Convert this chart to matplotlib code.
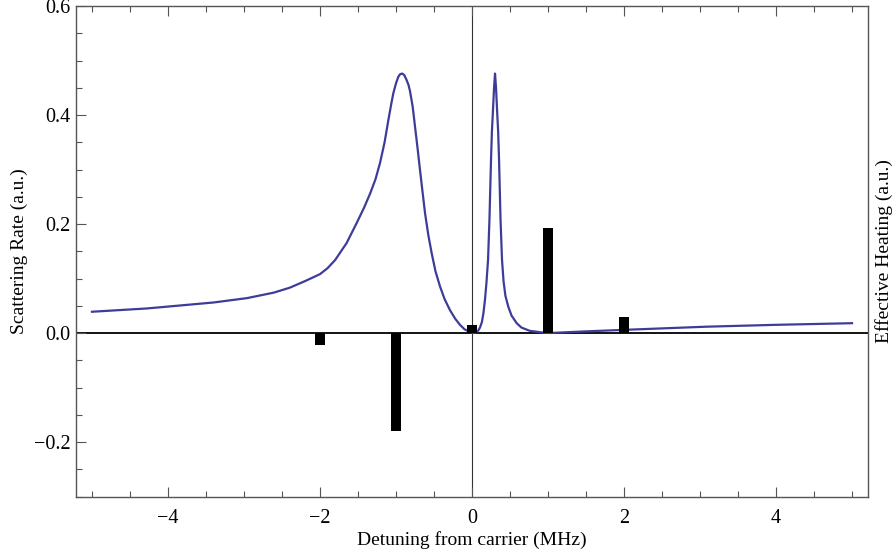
import matplotlib
matplotlib.use('Agg')
import matplotlib.pyplot as plt
from matplotlib.ticker import MultipleLocator

plt.rcParams['font.family'] = ['Liberation Serif', 'DejaVu Serif']

# scattering rate curve
detuning = [-5.0, -4.28, -3.40, -2.96, -2.61, -2.40, -2.20, -2.0, -1.9, -1.80, -1.65,
            -1.52, -1.42, -1.34, -1.27, -1.21, -1.15, -1.10, -1.06, -1.035, -1.0,
            -0.97, -0.945, -0.917, -0.89, -0.86, -0.835, -0.816, -0.78, -0.75,
            -0.717, -0.684, -0.65, -0.618, -0.575, -0.53, -0.48, -0.42, -0.36,
            -0.29, -0.22, -0.158, -0.10, -0.03, 0.02,
            0.05, 0.08, 0.105, 0.13, 0.15, 0.17, 0.19, 0.211, 0.23, 0.25, 0.262,
            0.273, 0.29, 0.303, 0.316, 0.333, 0.344, 0.356, 0.375, 0.395, 0.415,
            0.44, 0.478, 0.52, 0.588, 0.65, 0.76, 0.92, 1.03, 1.5, 1.95, 3.09,
            4.0, 5.0]
rate = [0.039, 0.045, 0.056, 0.064, 0.074, 0.083, 0.095, 0.108, 0.119, 0.134, 0.165,
        0.201, 0.230, 0.256, 0.282, 0.312, 0.350, 0.391, 0.422, 0.440, 0.458,
        0.470, 0.475, 0.476, 0.473, 0.464, 0.455, 0.444, 0.415, 0.379,
        0.340, 0.299, 0.258, 0.220, 0.180, 0.146, 0.113, 0.085, 0.062,
        0.042, 0.026, 0.015, 0.007, 0.002, 0.0,
        0.001, 0.004, 0.010, 0.020, 0.036, 0.060, 0.092, 0.134, 0.210, 0.317, 0.370,
        0.400, 0.450, 0.476, 0.450, 0.400, 0.370, 0.317, 0.210, 0.134, 0.095,
        0.068, 0.048, 0.032, 0.018, 0.010, 0.004, 0.001, 0.0, 0.003, 0.0055, 0.0116,
        0.015, 0.018]

# effective heating of each sideband
sideband = [-2, -1, 0, 1, 2]
heating = [-0.022, -0.180, 0.014, 0.193, 0.029]

xtick_pos = [-4, -2, 0, 2, 4]
xtick_labels = ['\u22124', '\u22122', '0', '2', '4']
ytick_pos = [-0.2, 0.0, 0.2, 0.4, 0.6]
ytick_labels = ['\u22120.2', '0.0', '0.2', '0.4', '0.6']

fig = plt.figure(figsize=(8.95, 5.58), dpi=100)
ax = fig.add_axes([76 / 895, 1 - 496.5 / 558, 792 / 895, 490.5 / 558])

ax.axhline(0, color='black', lw=1.3, zorder=1)
ax.axvline(0, color='#333333', lw=0.8, zorder=1)
ax.plot(detuning, rate, color='#3d3d99', lw=1.6, zorder=2)
ax.bar(sideband, heating, width=0.13, color='black', zorder=3)

ax.set_xlim(-5.21, 5.21)
ax.set_ylim(-0.3, 0.6)
ax.set_xticks(xtick_pos)
ax.set_xticklabels(xtick_labels)
ax.set_yticks(ytick_pos)
ax.set_yticklabels(ytick_labels)
ax.xaxis.set_minor_locator(MultipleLocator(0.5))
ax.yaxis.set_minor_locator(MultipleLocator(0.05))
ax.tick_params(which='both', direction='in', top=True, right=True,
               color='#555555', width=0.8, labelsize=14.5, pad=4)
ax.tick_params(axis='x', which='both', pad=9)
ax.tick_params(which='major', length=7)
ax.tick_params(which='minor', length=4)
for s in ax.spines.values():
    s.set_color('#555555')
    s.set_linewidth(1.0)

ax.set_xlabel('Detuning from carrier (MHz)', fontsize=14, labelpad=2)
ax.set_ylabel('Scattering Rate (a.u.)', fontsize=14)
ax2 = ax.twinx()
ax2.set_yticks([])
ax2.set_ylabel('Effective Heating (a.u.)', fontsize=14, labelpad=5)
for s in ax2.spines.values():
    s.set_visible(False)

fig.savefig('out.png', dpi=100)
